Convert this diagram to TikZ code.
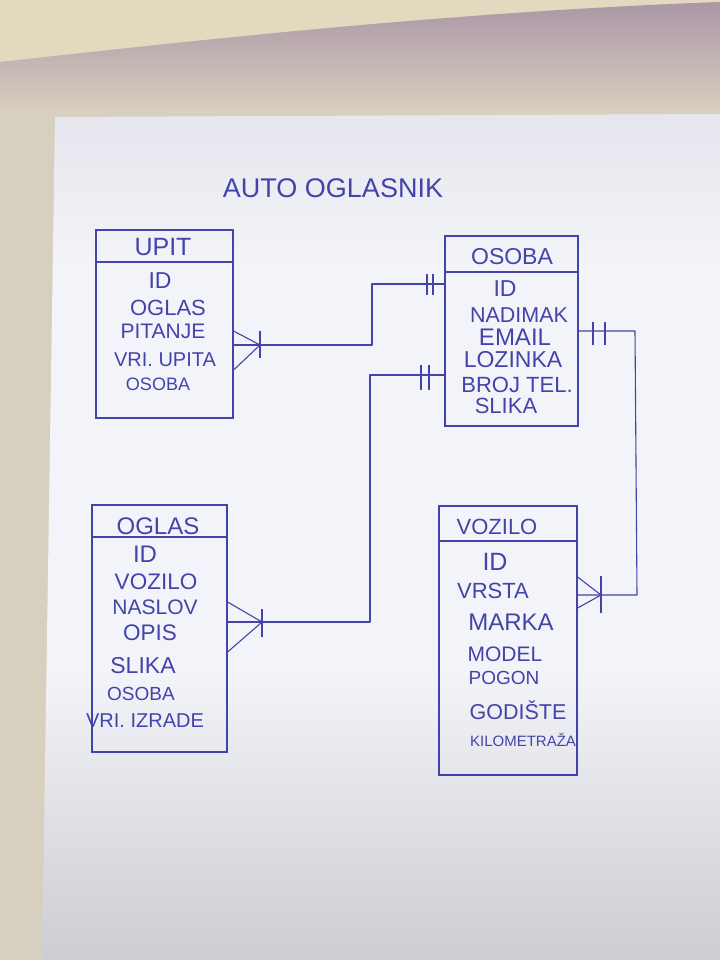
\documentclass[tikz,border=0pt]{standalone}
\usepackage{fontspec}
\setmainfont{Liberation Sans}
\definecolor{ink}{RGB}{66,68,170}
\definecolor{bgc}{RGB}{216,208,190}
\definecolor{cream}{RGB}{226,218,190}
\definecolor{shadowc}{RGB}{170,150,166}
\definecolor{paperTop}{RGB}{230,231,238}
\definecolor{paperMid}{RGB}{243,244,249}
\definecolor{paperBot}{RGB}{204,205,209}
\pgfdeclareverticalshading{papershade}{100bp}{color(0bp)=(paperBot); color(25bp)=(paperBot); color(42bp)=(paperMid); color(66bp)=(paperMid); color(75bp)=(paperTop); color(100bp)=(paperTop)}
\begin{document}
\begin{tikzpicture}[x=1pt,y=-1pt,
  entity/.style={draw=ink, line width=1.2pt, inner sep=0pt},
  ttl/.style={text=ink, inner sep=0pt, font=\fontsize{#1}{#1}\selectfont},
  ttl/.default=24,
  attr/.style={text=ink, inner sep=0pt, font=\fontsize{#1}{#1}\selectfont},
  attr/.default=21,
  conn/.style={draw=ink, line width=1.1pt, line join=round}]
\useasboundingbox (0,0) rectangle (720,960);
% background (photo surroundings)
\fill[bgc] (0,0) rectangle (720,960);
\fill[cream] (0,0) -- (720,0) -- (720,2) .. controls (450,12) and (200,40) .. (0,62) -- cycle;
\shade[top color=shadowc, bottom color=bgc] (0,62) .. controls (200,40) and (450,12) .. (720,2) -- (720,112) -- (0,112) -- cycle;
\shade[shading=papershade] (55,117) -- (720,114) -- (720,960) -- (42,960) -- cycle;

% title
\node[ttl=27] (title) at (333,188) {AUTO OGLASNIK};

% UPIT
\node[entity, minimum width=137pt, minimum height=188pt] (upit) at (164.5,324) {};
\draw[conn] (upit.west|-0,262) -- (upit.east|-0,262);
\node[ttl=25] (upitT) at (163,247) {UPIT};
\node[attr=23] (upitA1) at (160,281) {ID};
\node[attr=22] (upitA2) at (168,308) {OGLAS};
\node[attr=21] (upitA3) at (163,331) {PITANJE};
\node[attr=20] (upitA4) at (165,360) {VRI. UPITA};
\node[attr=18] (upitA5) at (158,384) {OSOBA};

% OSOBA
\node[entity, minimum width=133pt, minimum height=190pt] (osoba) at (511.5,331) {};
\draw[conn] (osoba.west|-0,272) -- (osoba.east|-0,272);
\node[ttl=23] (osobaT) at (512,257) {OSOBA};
\node[attr=23] (osobaA1) at (505,289) {ID};
\node[attr=21.5] (osobaA2) at (519,315) {NADIMAK};
\node[attr=24] (osobaA3) at (515,337) {EMAIL};
\node[attr=23] (osobaA4) at (513,360) {LOZINKA};
\node[attr=22] (osobaA5) at (517,385) {BROJ TEL.};
\node[attr=22] (osobaA6) at (506,406) {SLIKA};

% OGLAS
\node[entity, minimum width=135pt, minimum height=247pt] (oglas) at (159.5,628.5) {};
\draw[conn] (oglas.west|-0,537) -- (oglas.east|-0,537);
\node[ttl=24] (oglasT) at (158,526) {OGLAS};
\node[attr=24] (oglasA1) at (145,554) {ID};
\node[attr=22.5] (oglasA2) at (156,582) {VOZILO};
\node[attr=21] (oglasA3) at (155,607) {NASLOV};
\node[attr=22.5] (oglasA4) at (150,633) {OPIS};
\node[attr=23] (oglasA5) at (143,666) {SLIKA};
\node[attr=19] (oglasA6) at (141,694) {OSOBA};
\node[attr=20] (oglasA7) at (145,721) {VRI. IZRADE};

% VOZILO
\node[entity, minimum width=138pt, minimum height=269pt] (vozilo) at (508,640.5) {};
\draw[conn] (vozilo.west|-0,541) -- (vozilo.east|-0,541);
\node[ttl=22] (voziloT) at (497,527) {VOZILO};
\node[attr=25] (voziloA1) at (495,562) {ID};
\node[attr=22] (voziloA2) at (493,591) {VRSTA};
\node[attr=24] (voziloA3) at (511,622) {MARKA};
\node[attr=21] (voziloA4) at (505,654) {MODEL};
\node[attr=19] (voziloA5) at (504,678) {POGON};
\node[attr=21.5] (voziloA6) at (518,710) {GODIŠTE};
\node[attr=15] (voziloA7) at (523,740) {KILOMETRAŽA};

% UPIT -- OSOBA
\draw[conn] (upit.east|-0,345) -- (372,345) -- (372,284) -- (osoba.west|-0,284);
\draw[conn] (upit.east|-0,331) -- (260,345) -- (upit.east|-0,370);
\draw[conn] (260,331) -- (260,358);
\draw[conn] (427,274) -- (427,295);
\draw[conn] (433,274) -- (433,295);

% OGLAS -- OSOBA
\draw[conn] (oglas.east|-0,622) -- (370,622) -- (370,375) -- (osoba.west|-0,375);
\draw[conn] (oglas.east|-0,602) -- (262,622) -- (oglas.east|-0,652);
\draw[conn] (262,609) -- (262,637);
\draw[conn] (421,365) -- (421,390);
\draw[conn] (429,365) -- (429,390);

% OSOBA -- VOZILO
\draw[conn] (osoba.east|-0,331) -- (635,331) -- (637,595) -- (vozilo.east|-0,595);
\draw[conn] (vozilo.east|-0,577) -- (601,595) -- (vozilo.east|-0,608);
\draw[conn] (601,576) -- (601,613);
\draw[conn] (593,322) -- (593,345);
\draw[conn] (605,322) -- (605,345);
\end{tikzpicture}
\end{document}
